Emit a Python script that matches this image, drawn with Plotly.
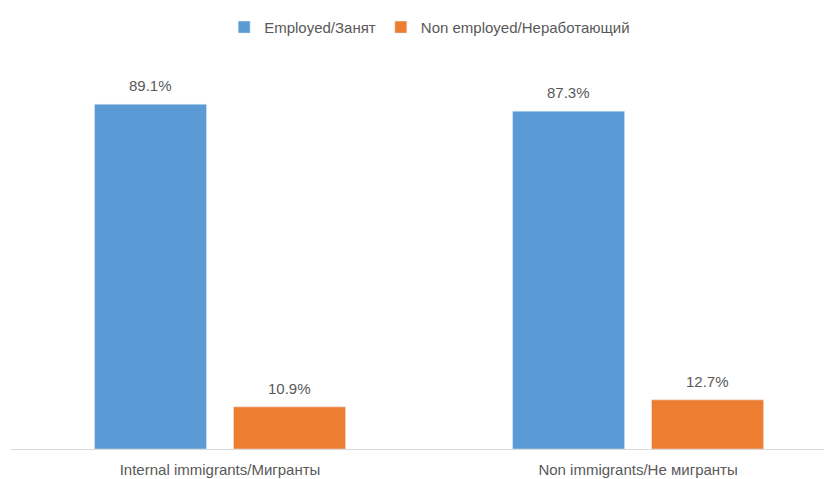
import plotly.graph_objects as go

categories = ["Internal immigrants/Мигранты", "Non immigrants/Не мигранты"]
employed = [89.1, 87.3]
non_employed = [10.9, 12.7]
series_names = ["Employed/Занят", "Non employed/Неработающий"]
colors = ["#5B9BD5", "#ED7D31"]

font_family = "Liberation Sans, Arial, sans-serif"
txt = "#595959"

fig = go.Figure()
for name, vals, c in zip(series_names, [employed, non_employed], colors):
    fig.add_trace(go.Bar(
        x=categories, y=vals, name=name, marker_color=c,
        textposition="none", cliponaxis=False,
    ))

# value labels above bars (bar centers within a group)
offsets = [-0.1665, 0.1665]
for k, vals in enumerate([employed, non_employed]):
    for i, v in enumerate(vals):
        fig.add_annotation(x=i + offsets[k], y=v, xref="x", yref="y",
                           text=f"{v:.1f}%", showarrow=False,
                           yanchor="bottom", yshift=8,
                           font=dict(size=15, color=txt, family=font_family))

fig.update_layout(
    width=832, height=479,
    margin=dict(l=3, r=0, t=54, b=38),
    paper_bgcolor="white", plot_bgcolor="white",
    barmode="group", bargap=0.335, bargroupgap=0.194,
    font=dict(family=font_family, size=15, color=txt),
    legend=dict(orientation="h", x=0.505, xanchor="center", y=0.994,
                yref="container", yanchor="top",
                font=dict(size=15, color=txt),
                traceorder="normal"),
    showlegend=True,
)
fig.update_xaxes(type="category", range=[-0.5, 1.483], showline=True,
                 linecolor="#D9D9D9", linewidth=1, ticks="",
                 ticklabelstandoff=7,
                 tickfont=dict(size=15, color=txt), showgrid=False)
fig.update_yaxes(range=[0, 100], showticklabels=False, showgrid=False,
                 zeroline=False, showline=False)

fig.write_html("out.html")
